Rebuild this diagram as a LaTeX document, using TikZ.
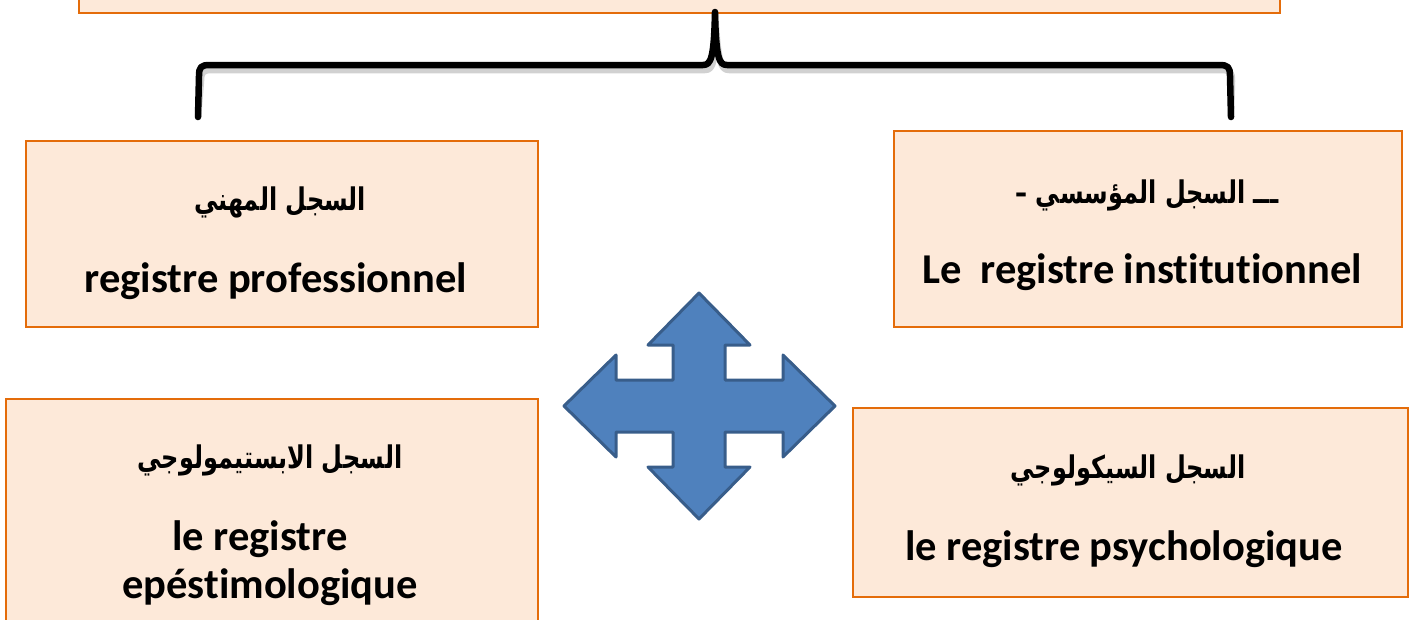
\documentclass[tikz,border=0pt]{standalone}
\usepackage{fontspec}
\setmainfont[Ligatures={NoCommon,NoContextual}]{Carlito}
\newfontfamily\arabicfont[Script=Arabic]{DejaVu Sans}
\TeXXeTstate=1
\definecolor{boxfill}{HTML}{FDE9D9}
\definecolor{boxline}{HTML}{E46C0A}
\definecolor{arrowfill}{HTML}{4F81BD}
\definecolor{arrowline}{HTML}{385D8A}
\newcommand{\artext}[1]{\scalebox{1}[1.3]{\beginR #1\endR}}
\begin{document}
\begin{tikzpicture}[x=1pt,y=-1pt,
  regbox/.style={draw=boxline, line width=2pt, fill=boxfill, anchor=north west, inner sep=0pt},
  ar/.style={font=\arabicfont\bfseries\fontsize{24}{28}\selectfont, anchor=base, inner sep=0pt},
  fr/.style={font=\bfseries\fontsize{42.5}{48}\selectfont, anchor=base, inner sep=0pt},
  bracestyle/.style={line width=6.5pt, line join=round, line cap=round},
  arrowshape/.style={fill=arrowfill, draw=arrowline, line width=3pt, line join=round}]
\useasboundingbox (0,0) rectangle (1414,619);
\clip (0,0) rectangle (1414,619);
% boxes
\node[regbox, minimum width=1201pt, minimum height=60pt] (top) at (78,-48) {};
\node[regbox, minimum width=508pt, minimum height=196pt] (inst) at (893,130) {};
\node[regbox, minimum width=512pt, minimum height=186pt] (prof) at (25,140) {};
\node[regbox, minimum width=532pt, minimum height=260pt] (epist) at (5,398) {};
\node[regbox, minimum width=555pt, minimum height=189pt] (psych) at (852,407) {};
% texts
\node[ar] (instA) at (1147,203) {\artext{ـــ السجل المؤسسي –}};
\node[fr] (instL) at (1142,283) {Le\ \ registre institutionnel};
\node[ar] (profA) at (280,210) {\artext{السجل المهني}};
\node[fr] (profL) at (276,292) {registre professionnel};
\node[ar] (epistA) at (270,468) {\artext{السجل الابستيمولوجي}};
\node[fr] (epistL1) at (260,550) {le registre};
\node[fr] (epistL2) at (270,598) {epéstimologique};
\node[ar] (psychA) at (1128,478) {\artext{السجل السيكولوجي}};
\node[fr] (psychL) at (1124,560) {le registre psychologique};
% brace
\coordinate (bl) at (198,117);
\coordinate (br) at (1231,117);
\coordinate (bt) at (715,12);
\begin{scope}[shift={(2,5)}]
\draw[bracestyle, black!30, opacity=0.6] (bl) -- (199,76) .. controls (199,67) and (201,65) .. (210,65) -- (703,65) .. controls (711,65) and (714,58) .. (bt) .. controls (716,58) and (719,65) .. (727,65) -- (1219,65) .. controls (1228,65) and (1230,67) .. (1230,76) -- (br);
\end{scope}
\draw[bracestyle] (bl) -- (199,76) .. controls (199,67) and (201,65) .. (210,65) -- (703,65) .. controls (711,65) and (714,58) .. (bt) .. controls (716,58) and (719,65) .. (727,65) -- (1219,65) .. controls (1228,65) and (1230,67) .. (1230,76) -- (br);
% four-way arrow
\coordinate (cross) at (699,406);
\draw[arrowshape] (699,293) -- (750,345) -- (725,345) -- (725,380) -- (783,380) -- (783,355) -- (835,406) -- (783,457) -- (783,432) -- (725,432) -- (725,467) -- (750,467) -- (699,519) -- (648,467) -- (673,467) -- (673,432) -- (616,432) -- (616,457) -- (564,406) -- (616,355) -- (616,380) -- (673,380) -- (673,345) -- (648,345) -- cycle;
\end{tikzpicture}
\end{document}
